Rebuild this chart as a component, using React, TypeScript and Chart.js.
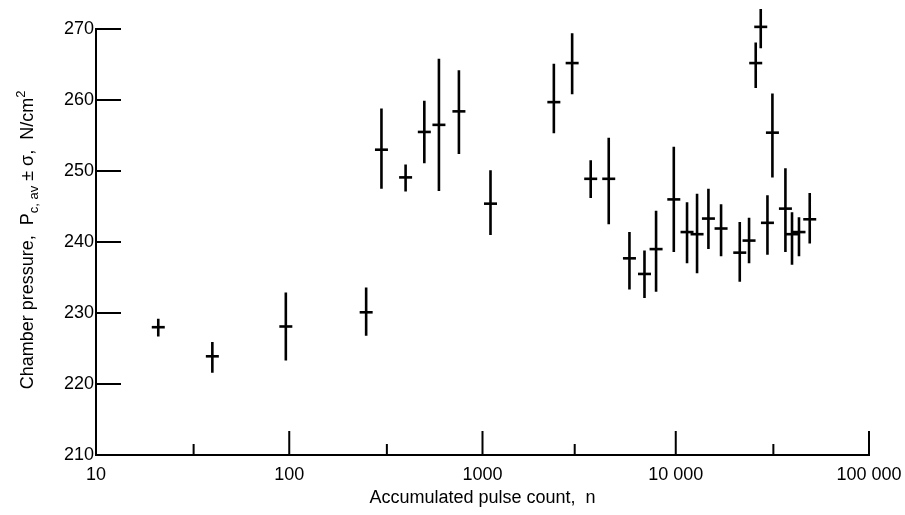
import React, { useEffect, useRef } from 'react';
import { Chart, registerables } from 'chart.js';

Chart.register(...registerables);

// Accumulated pulse count n (x, log scale)
const pulseCount = [21, 40, 96, 250, 300, 400, 500, 595, 755, 1100, 2340, 2910, 3630, 4500, 5760, 6890, 7910, 9770, 11440, 12890, 14760, 17160, 21440, 23950, 25930, 27530, 29820, 31640, 36940, 39960, 43420, 49350];
// Average chamber pressure, N/cm^2
const pressureAvg = [228.0, 223.9, 228.1, 230.1, 253.0, 249.1, 255.5, 256.5, 258.4, 245.4, 259.7, 265.2, 248.9, 248.9, 237.7, 235.5, 239.0, 246.0, 241.4, 241.1, 243.3, 241.9, 238.5, 240.2, 265.2, 270.3, 242.7, 255.4, 244.7, 241.1, 241.4, 243.2];
// Lower end of +/- sigma bar
const pressureLow = [226.7, 221.6, 223.3, 226.8, 247.5, 247.1, 251.1, 247.2, 252.4, 241.0, 255.3, 260.8, 246.2, 242.5, 233.3, 232.1, 233.0, 238.6, 237.0, 235.6, 239.0, 238.0, 234.4, 237.0, 261.7, 267.3, 238.2, 249.1, 238.6, 236.8, 238.0, 239.8];
// Upper end of +/- sigma bar
const pressureHigh = [229.2, 225.9, 232.9, 233.6, 258.8, 250.9, 259.9, 265.8, 264.2, 250.1, 265.1, 269.4, 251.5, 254.7, 241.4, 238.8, 244.4, 253.4, 245.6, 246.8, 247.5, 245.3, 242.8, 243.4, 268.1, 272.8, 246.6, 260.9, 250.4, 244.2, 243.5, 246.9];

const xMajorTicks = [10, 100, 1000, 10000, 100000];
const xTickLabels = ['10', '100', '1000', '10 000', '100 000'];
const xMinorTicks = [32, 320, 3000, 32000];
const yTicks = [210, 220, 230, 240, 250, 260, 270];

const xTitle = 'Accumulated pulse count,  n';
const yTitleParts = ['Chamber pressure,  P', 'c, av', ' \u00b1 \u03c3,  N/cm', '2'];

const FONT_FAMILY = '"Liberation Sans", Arial, sans-serif';

const inwardTicks = {
  id: 'inwardTicks',
  afterDraw(chart: any) {
    const { ctx, chartArea, scales } = chart;
    ctx.save();
    ctx.strokeStyle = '#000';
    ctx.lineWidth = 2;
    ctx.lineCap = 'butt';
    ctx.beginPath();
    yTicks.forEach((v) => {
      if (v === 210) return;
      const p = scales.y.getPixelForValue(v);
      ctx.moveTo(chartArea.left, p);
      ctx.lineTo(chartArea.left + 25, p);
    });
    xMajorTicks.forEach((v) => {
      if (v === 10) return;
      const p = scales.x.getPixelForValue(v);
      ctx.moveTo(p, chartArea.bottom);
      ctx.lineTo(p, chartArea.bottom - 24);
    });
    xMinorTicks.forEach((v) => {
      const p = scales.x.getPixelForValue(v);
      ctx.moveTo(p, chartArea.bottom);
      ctx.lineTo(p, chartArea.bottom - 11);
    });
    ctx.stroke();
    ctx.restore();
  },
};

const yTitlePlugin = {
  id: 'yTitlePlugin',
  afterDraw(chart: any) {
    const { ctx, chartArea } = chart;
    const cx = 33;
    const cy = (chartArea.top + chartArea.bottom) / 2 - 2;
    const main = `18px ${FONT_FAMILY}`;
    const small = `13px ${FONT_FAMILY}`;
    const parts = [
      { t: yTitleParts[0], f: main, dy: 0, w: 0 },
      { t: yTitleParts[1], f: small, dy: 5, w: 0 },
      { t: yTitleParts[2], f: main, dy: 0, w: 0 },
      { t: yTitleParts[3], f: small, dy: -8, w: 0 },
    ];
    ctx.save();
    ctx.translate(cx, cy);
    ctx.rotate(-Math.PI / 2);
    ctx.fillStyle = '#000';
    ctx.textBaseline = 'alphabetic';
    ctx.textAlign = 'left';
    let total = 0;
    parts.forEach((p) => {
      ctx.font = p.f;
      p.w = ctx.measureText(p.t).width;
      total += p.w;
    });
    let u = -total / 2;
    parts.forEach((p) => {
      ctx.font = p.f;
      ctx.fillText(p.t, u, p.dy);
      u += p.w;
    });
    ctx.restore();
  },
};

export default function App() {
  const ref = useRef<HTMLCanvasElement>(null);

  useEffect(() => {
    const canvas = ref.current;
    if (!canvas) return;
    const errorData: any[] = [];
    pulseCount.forEach((n, i) => {
      errorData.push({ x: n, y: pressureLow[i] }, { x: n, y: pressureHigh[i] }, { x: n, y: null });
    });
    const meanData = pulseCount.map((n, i) => ({ x: n, y: pressureAvg[i] }));
    const font = { family: FONT_FAMILY, size: 18 };

    const chart = new Chart(canvas, {
      type: 'scatter',
      data: {
        datasets: [
          {
            data: errorData,
            showLine: true,
            spanGaps: false,
            borderColor: '#000',
            borderWidth: 2.6,
            borderCapStyle: 'butt',
            pointRadius: 0,
            clip: false,
          } as any,
          {
            data: meanData,
            showLine: false,
            pointStyle: 'line',
            pointRadius: 6.5,
            pointBorderWidth: 2.6,
            pointBorderColor: '#000',
            borderColor: '#000',
            backgroundColor: '#000',
            clip: false,
          } as any,
        ],
      },
      options: {
        animation: false,
        responsive: false,
        devicePixelRatio: 1,
        events: [],
        layout: { padding: { top: 29, right: 36, left: 0, bottom: 0 } },
        plugins: {
          legend: { display: false },
          tooltip: { enabled: false },
        },
        scales: {
          x: {
            type: 'logarithmic',
            position: 'bottom',
            min: 10,
            max: 100000,
            afterFit: (s: any) => {
              s.height = 60;
              s.paddingLeft = 0;
              s.paddingRight = 0;
            },
            afterBuildTicks: (s: any) => {
              s.ticks = xMajorTicks.map((v) => ({ value: v }));
            },
            ticks: {
              autoSkip: false,
              maxRotation: 0,
              minRotation: 0,
              color: '#000',
              font,
              padding: 9,
              callback: (_v: any, i: number) => xTickLabels[i],
            },
            grid: { display: true, drawOnChartArea: false, drawTicks: false },
            border: { display: true, color: '#000', width: 2 },
            title: {
              display: true,
              text: xTitle,
              color: '#000',
              font,
              padding: { top: 0, bottom: 6 },
            },
          },
          y: {
            type: 'linear',
            min: 210,
            max: 270,
            afterFit: (s: any) => {
              s.width = 96;
            },
            afterBuildTicks: (s: any) => {
              s.ticks = yTicks.map((v) => ({ value: v }));
            },
            ticks: {
              color: '#000',
              font,
              padding: 2,
              callback: (v: any) => String(v),
            },
            grid: { display: true, drawOnChartArea: false, drawTicks: false },
            border: { display: true, color: '#000', width: 2 },
          },
        },
      } as any,
      plugins: [inwardTicks, yTitlePlugin],
    });
    return () => chart.destroy();
  }, []);

  return (
    <div style={{ position: 'fixed', left: 0, top: 0, width: 905, height: 515, background: '#fff' }}>
      <canvas ref={ref} width={905} height={515} style={{ display: 'block', width: 905, height: 515 }} />
    </div>
  );
}
